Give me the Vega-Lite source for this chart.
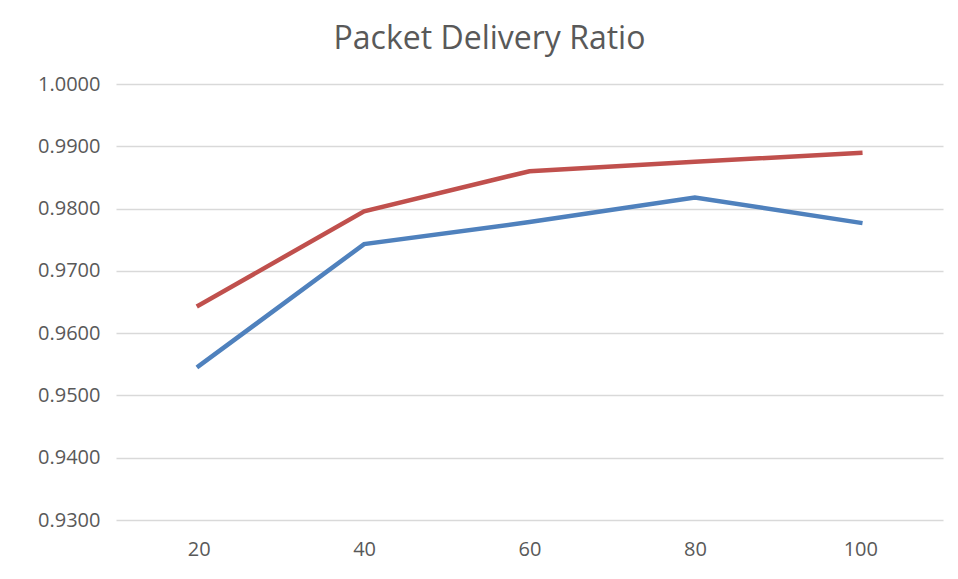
{
  "$schema": "https://vega.github.io/schema/vega-lite/v6.json",
  "autosize": "none",
  "width": 827,
  "height": 436,
  "padding": {"left": 116, "top": 84, "right": 15, "bottom": 59},
  "background": "white",
  "title": {
    "text": "Packet Delivery Ratio",
    "font": "Open Sans",
    "fontSize": 32,
    "fontWeight": "normal",
    "color": "#595959",
    "anchor": "middle",
    "dx": -40,
    "offset": 18
  },
  "config": {
    "view": {"stroke": null},
    "font": "Open Sans"
  },
  "data": {
    "values": [
      {"nodes": 20, "series": "A", "pdr": 0.96445},
      {"nodes": 40, "series": "A", "pdr": 0.97955},
      {"nodes": 60, "series": "A", "pdr": 0.98600},
      {"nodes": 80, "series": "A", "pdr": 0.98750},
      {"nodes": 100, "series": "A", "pdr": 0.98894},
      {"nodes": 20, "series": "B", "pdr": 0.95470},
      {"nodes": 40, "series": "B", "pdr": 0.97429},
      {"nodes": 60, "series": "B", "pdr": 0.97783},
      {"nodes": 80, "series": "B", "pdr": 0.98177},
      {"nodes": 100, "series": "B", "pdr": 0.97772}
    ]
  },
  "mark": {"type": "line", "strokeWidth": 4.5, "strokeCap": "square", "strokeJoin": "miter"},
  "encoding": {
    "x": {
      "field": "nodes",
      "type": "ordinal",
      "sort": [20, 40, 60, 80, 100],
      "scale": {"type": "point", "padding": 0.5},
      "axis": {
        "title": null,
        "labelAngle": 0,
        "labelFont": "Open Sans",
        "labelFontSize": 20,
        "labelColor": "#595959",
        "labelPadding": 19,
        "domain": false,
        "ticks": false,
        "grid": false
      }
    },
    "y": {
      "field": "pdr",
      "type": "quantitative",
      "scale": {"domain": [0.93, 1.0], "nice": false, "zero": false},
      "axis": {
        "title": null,
        "values": [0.93, 0.94, 0.95, 0.96, 0.97, 0.98, 0.99, 1.0],
        "format": ".4f",
        "labelFont": "Open Sans",
        "labelFontSize": 20,
        "labelColor": "#595959",
        "labelPadding": 16,
        "domain": false,
        "ticks": false,
        "grid": true,
        "gridColor": "#d9d9d9",
        "gridWidth": 1.5
      }
    },
    "color": {
      "field": "series",
      "type": "nominal",
      "scale": {"domain": ["A", "B"], "range": ["#c0504d", "#4f81bd"]},
      "legend": null
    }
  }
}
